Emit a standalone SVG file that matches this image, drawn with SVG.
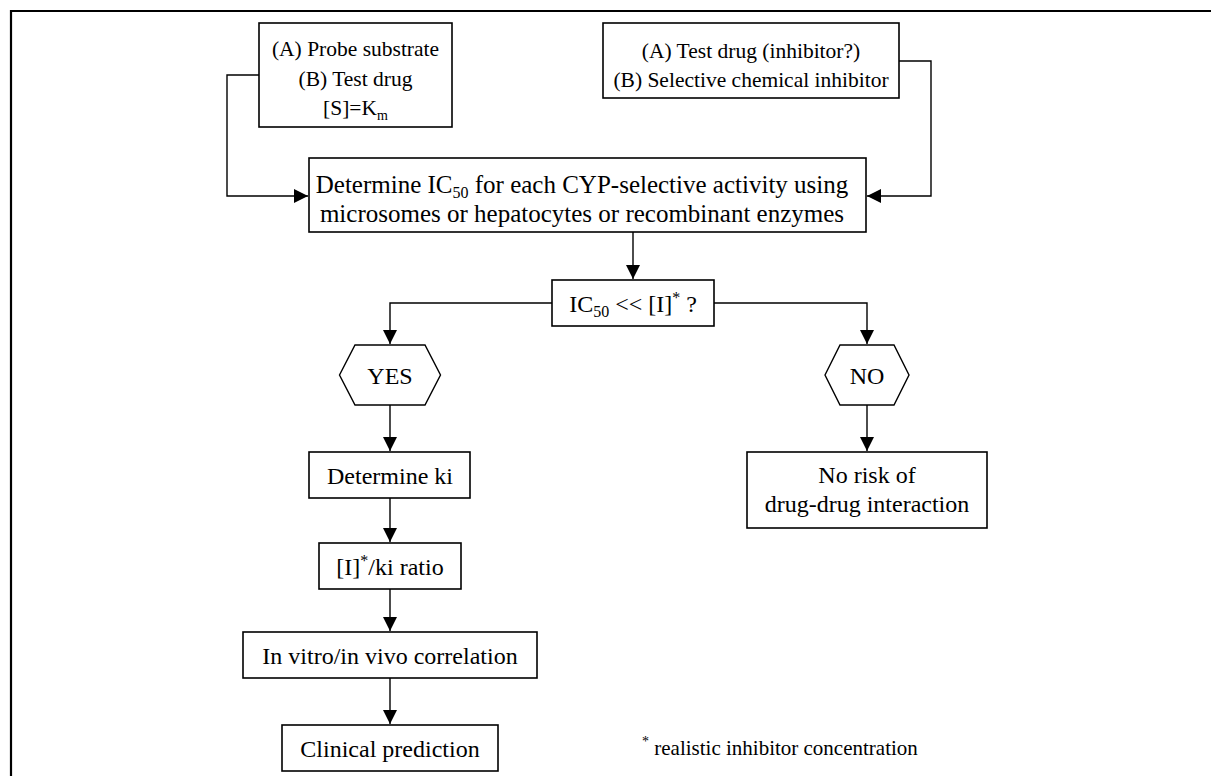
<svg xmlns="http://www.w3.org/2000/svg" width="1211" height="776" viewBox="0 0 1211 776">
<style>
.box{fill:#fff;stroke:#000;stroke-width:1.6}
.hex{fill:#fff;stroke:#000;stroke-width:1.4}
.t{font-family:"Liberation Serif","Times New Roman",serif;font-size:24px;fill:#000;text-anchor:middle}
.s{font-size:21.5px}
.m{font-size:25px}
.f{font-family:"Liberation Serif","Times New Roman",serif;font-size:21px;fill:#000}
.c{fill:none;stroke:#000;stroke-width:1.4}
.frame{fill:none;stroke:#000;stroke-width:2.2}
</style>
<defs>
<marker id="ah" markerUnits="userSpaceOnUse" markerWidth="15" markerHeight="15" refX="14" refY="7" orient="auto" viewBox="0 0 15 15">
<path d="M0,0 L14,7 L0,14 Z" fill="#000"/>
</marker>
</defs>
<rect width="1211" height="776" fill="#fff"/>
<path class="frame" d="M11,776 L11,11 L1211,11"/>

<g id="connectors">
<path class="c" d="M259,75 H227 V196 H308" marker-end="url(#ah)"/>
<path class="c" d="M899,61 H931 V196 H867" marker-end="url(#ah)"/>
<path class="c" d="M633,232 V279" marker-end="url(#ah)"/>
<path class="c" d="M552,303 H390 V344" marker-end="url(#ah)"/>
<path class="c" d="M714,303 H867 V344" marker-end="url(#ah)"/>
<path class="c" d="M390,405 V451" marker-end="url(#ah)"/>
<path class="c" d="M867,405 V451" marker-end="url(#ah)"/>
<path class="c" d="M390,498 V542" marker-end="url(#ah)"/>
<path class="c" d="M390,589 V631" marker-end="url(#ah)"/>
<path class="c" d="M390,678 V724" marker-end="url(#ah)"/>
</g>

<g id="probe">
<rect class="box" x="259" y="23" width="193" height="104"/>
<text class="t s" x="355.5" y="56">(A) Probe substrate</text>
<text class="t s" x="355.5" y="86">(B) Test drug</text>
<text class="t s" x="355.5" y="115">[S]=K<tspan font-size="14" dy="5">m</tspan></text>
</g>

<g id="inhibitor">
<rect class="box" x="603" y="23" width="296" height="75"/>
<text class="t s" x="751" y="58">(A) Test drug (inhibitor?)</text>
<text class="t s" x="751" y="87">(B) Selective chemical inhibitor</text>
</g>

<g id="determine-ic50">
<rect class="box" x="309" y="158" width="557" height="74"/>
<text class="t m" x="582" y="193">Determine IC<tspan font-size="16" dy="5">50</tspan><tspan dy="-5"> for each CYP-selective activity using</tspan></text>
<text class="t m" x="582" y="222">microsomes or hepatocytes or recombinant enzymes</text>
</g>

<g id="ic50-question">
<rect class="box" x="552" y="280" width="162" height="46"/>
<text class="t" x="633" y="312">IC<tspan font-size="16" dy="5">50</tspan><tspan dy="-5"> &lt;&lt; [I]</tspan><tspan font-size="16" dy="-9">*</tspan><tspan dy="9"> ?</tspan></text>
</g>

<g id="yes">
<polygon class="hex" points="339.5,375 355,345 425,345 440.5,375 425,405 355,405"/>
<text class="t" x="390" y="384">YES</text>
</g>

<g id="no">
<polygon class="hex" points="825,375 840,345 894,345 909,375 894,405 840,405"/>
<text class="t" x="867" y="384">NO</text>
</g>

<g id="determine-ki">
<rect class="box" x="309" y="452" width="161" height="46"/>
<text class="t" x="390" y="484">Determine ki</text>
</g>

<g id="no-risk">
<rect class="box" x="747" y="452" width="240" height="76"/>
<text class="t" x="867" y="483">No risk of</text>
<text class="t" x="867" y="512">drug-drug interaction</text>
</g>

<g id="ratio">
<rect class="box" x="319" y="543" width="142" height="46"/>
<text class="t" x="390" y="575">[I]<tspan font-size="16" dy="-9">*</tspan><tspan dy="9">/ki ratio</tspan></text>
</g>

<g id="correlation">
<rect class="box" x="243" y="632" width="294" height="46"/>
<text class="t" x="390" y="664">In vitro/in vivo correlation</text>
</g>

<g id="clinical">
<rect class="box" x="282" y="725" width="216" height="46"/>
<text class="t" x="390" y="757">Clinical prediction</text>
</g>

<g id="footnote">
<text class="f" x="642" y="755"><tspan font-size="14" dy="-9">*</tspan><tspan dy="9"> realistic inhibitor concentration</tspan></text>
</g>
</svg>
